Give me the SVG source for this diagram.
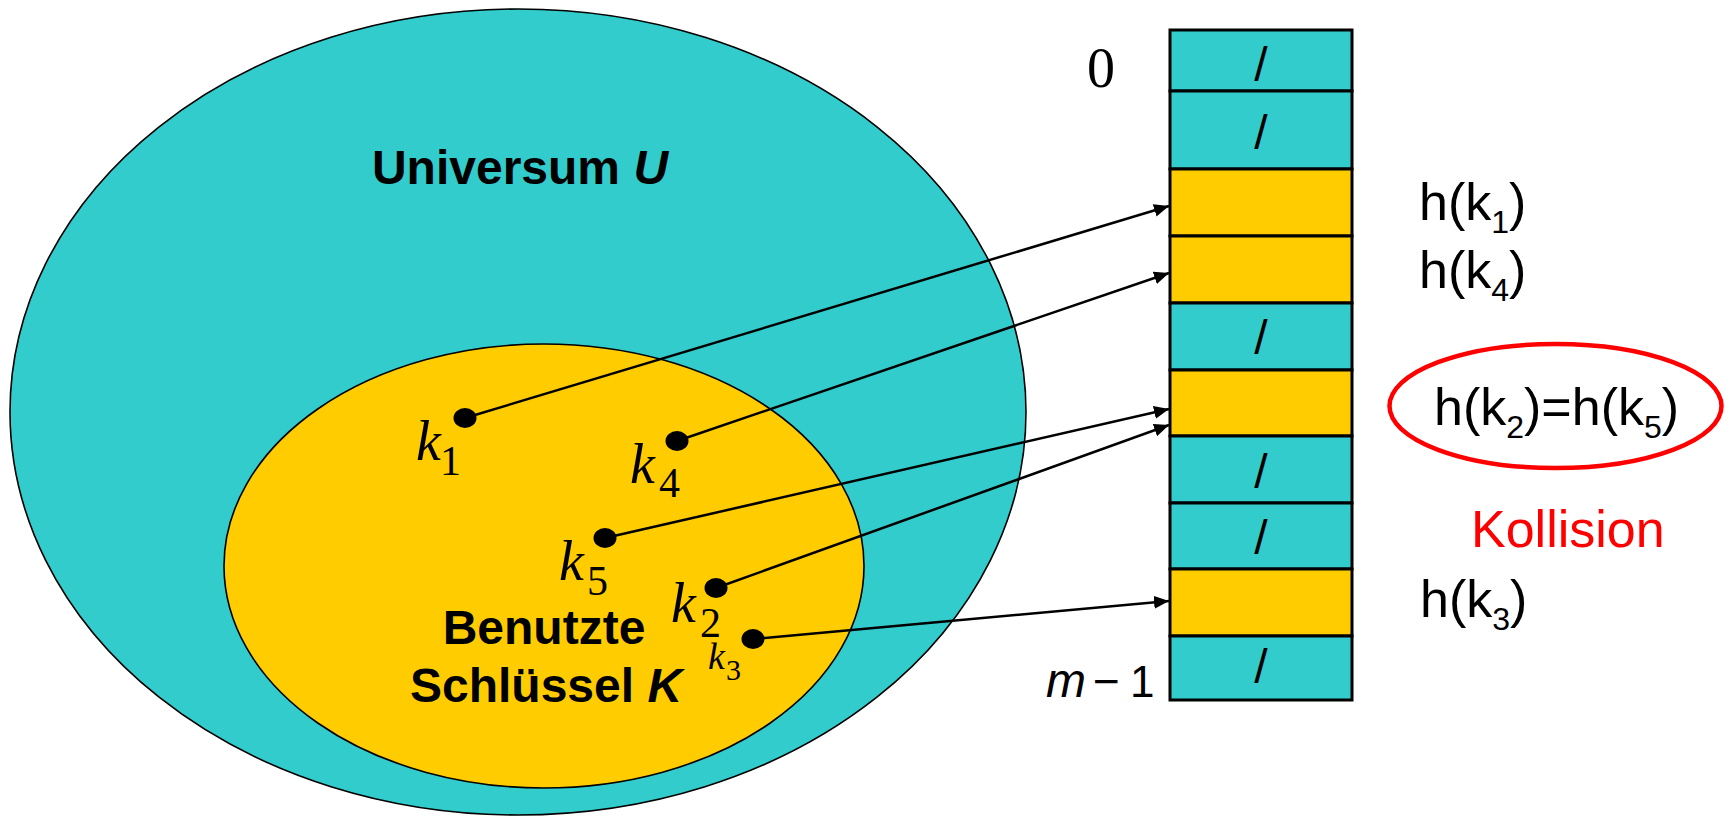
<svg xmlns="http://www.w3.org/2000/svg" width="1734" height="816" viewBox="0 0 1734 816">
  <style>
    .teal { fill: #33CCCC; }
    .yel { fill: #FFCC00; }
    .set { stroke: #000; stroke-width: 1.6; }
    .slot { stroke: #000; stroke-width: 3; }
    .sans { font-family: "Liberation Sans", Arial, sans-serif; fill: #000; }
    .bold { font-weight: bold; font-size: 48px; }
    .serif { font-family: "Liberation Serif", "Times New Roman", serif; fill: #000; }
    .kk { font-style: italic; font-size: 56px; }
    .ks { font-size: 42px; }
    .slash { font-family: "Liberation Sans", Arial, sans-serif; font-size: 48px; text-anchor: middle; fill: #000; }
    .hl { font-family: "Liberation Sans", Arial, sans-serif; font-size: 52px; fill: #000; }
    .hs { font-size: 32px; }
    .conn { stroke: #000; stroke-width: 2.5; fill: none; marker-end: url(#arr); }
    .dot { fill: #000; }
  </style>
  <defs>
    <marker id="arr" markerUnits="userSpaceOnUse" markerWidth="15" markerHeight="13" refX="15" refY="6.5" orient="auto">
      <path d="M0,0 L15,6.5 L0,13 z" fill="#000"/>
    </marker>
  </defs>
  <rect width="1734" height="816" fill="#fff"/>

  <g id="universe">
    <ellipse class="teal set" cx="518" cy="412" rx="508" ry="403"/>
    <text class="sans bold" x="520" y="184" text-anchor="middle">Universum <tspan font-style="italic">U</tspan></text>
  </g>
  <g id="keys">
    <ellipse class="yel set" cx="544" cy="566" rx="320" ry="222"/>
    <text class="sans bold" x="544" y="644" text-anchor="middle">Benutzte</text>
    <text class="sans bold" x="546" y="702" text-anchor="middle">Schlüssel <tspan font-style="italic">K</tspan></text>
  </g>

  <g id="table">
    <rect class="teal slot" x="1170" y="30" width="182" height="61"/>
    <rect class="teal slot" x="1170" y="91" width="182" height="78"/>
    <rect class="yel slot" x="1170" y="169" width="182" height="67"/>
    <rect class="yel slot" x="1170" y="236" width="182" height="67"/>
    <rect class="teal slot" x="1170" y="303" width="182" height="67"/>
    <rect class="yel slot" x="1170" y="370" width="182" height="66"/>
    <rect class="teal slot" x="1170" y="436" width="182" height="67"/>
    <rect class="teal slot" x="1170" y="503" width="182" height="66"/>
    <rect class="yel slot" x="1170" y="569" width="182" height="67"/>
    <rect class="teal slot" x="1170" y="636" width="182" height="64"/>
    <text class="slash" x="1261" y="81">/</text>
    <text class="slash" x="1261" y="149">/</text>
    <text class="slash" x="1261" y="354">/</text>
    <text class="slash" x="1261" y="488">/</text>
    <text class="slash" x="1261" y="554">/</text>
    <text class="slash" x="1261" y="683">/</text>
    <text class="serif" x="1101" y="87" font-size="56" text-anchor="middle">0</text>
    <text class="sans" y="697"><tspan x="1046" font-size="48" font-style="italic">m</tspan><tspan x="1093" font-size="46">−</tspan><tspan x="1130" font-size="44">1</tspan></text>
  </g>

  <g id="connectors">
    <line class="conn" x1="465" y1="418" x2="1169" y2="206"/>
    <line class="conn" x1="677" y1="441" x2="1169" y2="273"/>
    <line class="conn" x1="605" y1="538" x2="1169" y2="409"/>
    <line class="conn" x1="716" y1="588" x2="1169" y2="425"/>
    <line class="conn" x1="753" y1="639" x2="1169" y2="601"/>
  </g>

  <g id="k1">
    <ellipse class="dot" cx="465" cy="418" rx="11.5" ry="10"/>
    <text class="serif kk" x="416" y="460">k</text>
    <text class="serif ks" x="440" y="475">1</text>
  </g>
  <g id="k4">
    <ellipse class="dot" cx="677" cy="441" rx="11.5" ry="10"/>
    <text class="serif kk" x="630" y="483">k</text>
    <text class="serif ks" x="659" y="497">4</text>
  </g>
  <g id="k5">
    <ellipse class="dot" cx="605" cy="538" rx="11.5" ry="10"/>
    <text class="serif kk" x="559" y="580">k</text>
    <text class="serif ks" x="587" y="595">5</text>
  </g>
  <g id="k2">
    <ellipse class="dot" cx="716" cy="588" rx="11.5" ry="10"/>
    <text class="serif kk" x="671" y="622">k</text>
    <text class="serif ks" x="700" y="637">2</text>
  </g>
  <g id="k3">
    <ellipse class="dot" cx="753" cy="639" rx="11.5" ry="10"/>
    <text class="serif" x="708" y="669" font-size="38" font-style="italic">k</text>
    <text class="serif" x="726" y="680" font-size="30">3</text>
  </g>

  <g id="labels">
    <text class="hl" x="1419" y="220">h(k<tspan class="hs" dy="13">1</tspan><tspan dy="-13">)</tspan></text>
    <text class="hl" x="1419" y="288">h(k<tspan class="hs" dy="13">4</tspan><tspan dy="-13">)</tspan></text>
    <text class="hl" x="1420" y="617">h(k<tspan class="hs" dy="13">3</tspan><tspan dy="-13">)</tspan></text>
  </g>
  <g id="collision">
    <ellipse cx="1555.5" cy="406" rx="166" ry="62" fill="none" stroke="#FF0000" stroke-width="4.5"/>
    <text class="hl" x="1434" y="425">h(k<tspan class="hs" dy="13">2</tspan><tspan dy="-13">)=h(k</tspan><tspan class="hs" dy="13">5</tspan><tspan dy="-13">)</tspan></text>
    <text class="hl" x="1471" y="547" style="fill:#FF0000">Kollision</text>
  </g>
</svg>
